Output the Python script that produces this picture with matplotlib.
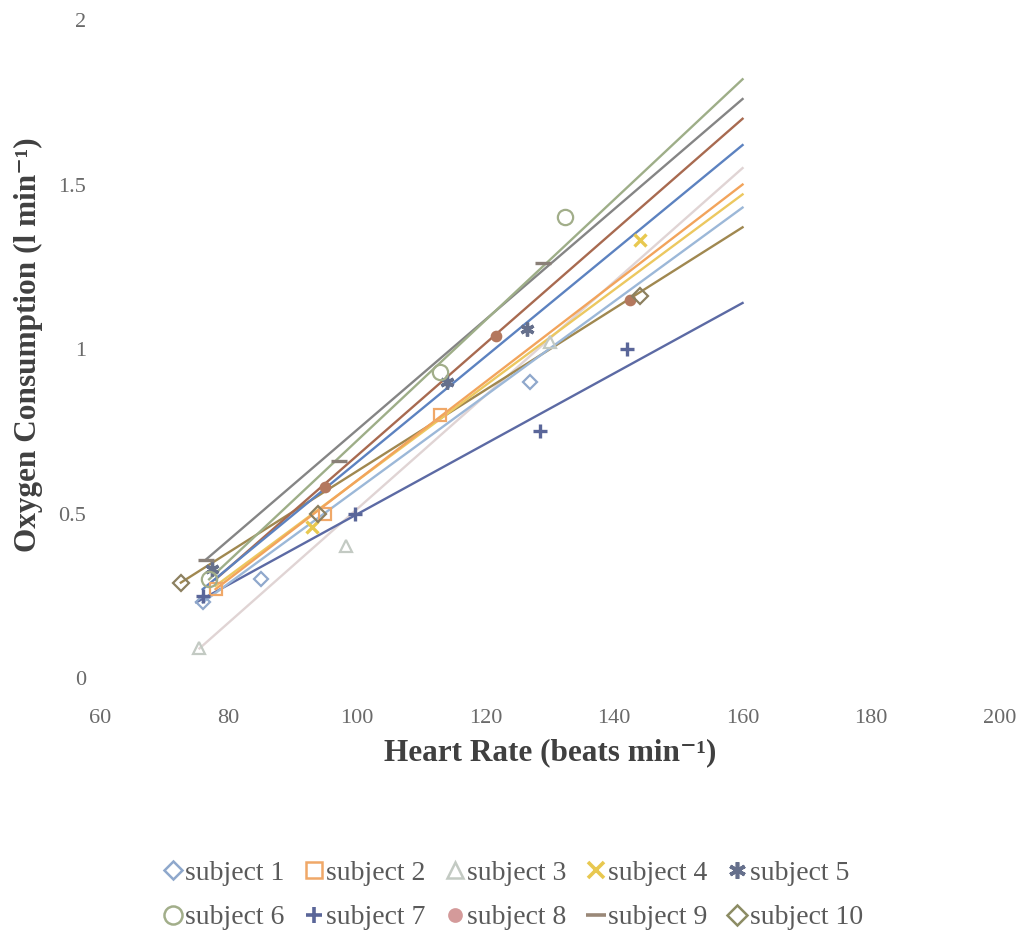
import matplotlib
matplotlib.use('Agg')
import matplotlib.pyplot as plt

plt.rcParams['font.family'] = ['Liberation Serif', 'DejaVu Serif']

# measured points (heart rate, oxygen consumption) per subject
hr = [
    [76, 85, 127],
    [78, 95, 113],
    [75.5, 98.3, 130],
    [93, 144],
    [77.5, 114, 126.4],
    [77, 113, 132.3],
    [76, 99.7, 128.5, 142],
    [95, 121.7, 142.5],
    [76.5, 97.2, 128.9],
    [72.6, 94, 144],
]
vo2 = [
    [0.23, 0.30, 0.90],
    [0.27, 0.50, 0.80],
    [0.09, 0.40, 1.02],
    [0.46, 1.33],
    [0.33, 0.90, 1.06],
    [0.30, 0.93, 1.40],
    [0.25, 0.50, 0.75, 1.00],
    [0.58, 1.04, 1.15],
    [0.36, 0.66, 1.26],
    [0.29, 0.50, 1.16],
]

# linear trend lines: start heart rate, start value, value at 160
trend_x0 = [76, 78, 75.5, 78, 76, 77, 75, 78, 76.5, 72.6]
trend_y0 = [0.23, 0.27, 0.09, 0.28, 0.27, 0.30, 0.23, 0.30, 0.36, 0.29]
trend_y1 = [1.43, 1.50, 1.55, 1.47, 1.62, 1.82, 1.14, 1.70, 1.76, 1.37]
trend_x1 = 160

labels = ['subject %d' % i for i in range(1, 11)]
colors = ['#8fa8cc', '#f0a868', '#c3cac3', '#e8c850', '#66708c',
          '#a2ae8a', '#5a6699', '#b4785e', '#8a8078', '#8c8060']
legend_colors = ['#8fa8cc', '#f0a868', '#c3cac3', '#e8c850', '#66708c',
                 '#a2ae8a', '#5a6699', '#d49a9a', '#9a8878', '#8c8c64']
line_colors = ['#9cb8d8', '#f2a45c', '#e0d4d4', '#ecc860', '#5c82c0',
               '#9eae88', '#5c6aa4', '#a86a50', '#858585', '#a08850']
markers = ['D', 's', '^', 'x', (6, 2, 0), 'o', '+', 'o', '_', 'D']
hollow = [True, True, True, False, False, True, False, False, False, True]
msizes = [7, 9, 9, 9, 10, 11, 10, 6, 12, 8]

fig = plt.figure(figsize=(10.19, 9.32), dpi=100)
ax = fig.add_axes([0.098, 0.2725, 0.883, 0.706])

# trend lines first, so the top ones sit on top
order = [2, 9, 6, 0, 3, 1, 7, 4, 8, 5]
for i in order:
    ax.plot([trend_x0[i], trend_x1], [trend_y0[i], trend_y1[i]],
            color=line_colors[i], lw=1.7, zorder=2)

for i in range(10):
    if hollow[i]:
        ax.plot(hr[i], vo2[i], ls='none', marker=markers[i], ms=msizes[i],
                mfc='none', mec=colors[i], mew=1.6, zorder=3)
    else:
        ax.plot(hr[i], vo2[i], ls='none', marker=markers[i], ms=msizes[i],
                color=colors[i], mew=2.4, zorder=3)

# legend handles (marker only)
handles = []
for i in range(10):
    if hollow[i]:
        h, = ax.plot([], [], ls='none', marker=markers[i], ms=msizes[i] + 2,
                     mfc='none', mec=legend_colors[i], mew=1.8)
    else:
        h, = ax.plot([], [], ls='none', marker=markers[i], ms=msizes[i] + 2,
                     color=legend_colors[i], mew=2.6)
    handles.append(h)

ax.set_xlim(60, 200)
ax.set_ylim(0, 2)
ax.set_xticks([60, 80, 100, 120, 140, 160, 180, 200])
ax.set_yticks([0, 0.5, 1, 1.5, 2])
ax.set_yticklabels(['0', '0.5', '1', '1.5', '2'])
for s in ax.spines.values():
    s.set_visible(False)
ax.tick_params(length=0, labelsize=16, labelcolor='#6a6a6a')
ax.tick_params(axis='x', pad=22)
ax.tick_params(axis='y', pad=10)

ax.set_xlabel('Heart Rate (beats min⁻¹)', fontsize=22.5,
              fontweight='bold', color='#404040', labelpad=8)
fig.text(28 / 1019, 1 - 345 / 932, 'Oxygen Consumption (l min⁻¹)',
         rotation=90, ha='center', va='center', fontsize=22.5,
         fontweight='bold', color='#404040')

# rows: subjects 1-5, then 6-10
idx = [0, 5, 1, 6, 2, 7, 3, 8, 4, 9]
leg = fig.legend([handles[i] for i in idx], [labels[i] for i in idx],
                 loc='upper center', bbox_to_anchor=(0.504, 0.104),
                 ncol=5, frameon=False, fontsize=20, handlelength=0.6,
                 handletextpad=0.15, columnspacing=0.75, labelspacing=0.7)
for t in leg.get_texts():
    t.set_color('#5a5a5a')

fig.savefig('out.png', dpi=100)
